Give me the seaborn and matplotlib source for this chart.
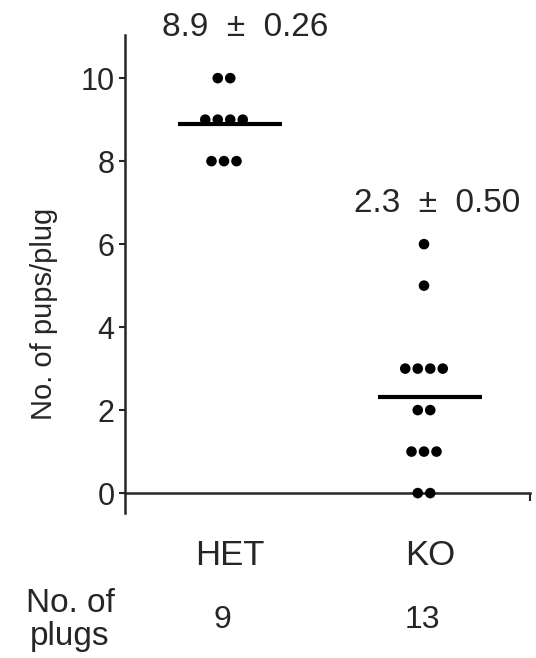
import matplotlib
matplotlib.use("Agg")
import matplotlib.pyplot as plt
import matplotlib.transforms as mtransforms
import numpy as np
import pandas as pd
import seaborn as sns

# data
groups = ["HET", "KO"]
het_pups = [10, 10, 9, 9, 9, 9, 8, 8, 8]
ko_pups = [6, 5, 3, 3, 3, 3, 2, 2, 1, 1, 1, 0, 0]

sns.set_style("white")
plt.rcParams['font.family'] = ['Liberation Sans', 'DejaVu Sans']
ink = "#262626"

rows = []
for gi, (name, vals) in enumerate(zip(groups, [het_pups, ko_pups])):
    # dots with the same value sit side by side
    counts = pd.Series(vals).value_counts()
    seen = {}
    for v in vals:
        n = counts[v]
        k = seen.get(v, 0)
        seen[v] = k + 1
        rows.append({"group": name, "xpos": gi - 0.03 + (k - (n - 1) / 2) * 0.0625, "pups": v})
df = pd.DataFrame(rows)

fig = plt.figure(figsize=(5.36, 6.58), dpi=100)
ax = fig.add_axes([125 / 536, 145 / 658, 407 / 536, 478 / 658])

sns.scatterplot(data=df, x="xpos", y="pups", color="black", s=58,
                edgecolor="none", ax=ax, clip_on=False, zorder=3)

# mean lines and mean +- sem labels
stats = df.groupby("group", sort=False)["pups"].agg(["mean", "sem", "count"])
ax.hlines(stats["mean"].values, np.arange(len(groups)) - 0.26,
          np.arange(len(groups)) + 0.26, color="black", lw=3, zorder=2)
ann_pos = [(0.075, 11.23), (1.035, 6.99)]
for (gx, gy), (name, r) in zip(ann_pos, stats.iterrows()):
    ax.text(gx, gy, f"{r['mean']:.1f}  \u00b1  {r['sem']:.2f}", ha="center", va="center",
            fontsize=24, color=ink, clip_on=False)

ax.set_xlim(-0.525, 1.51)
ax.set_ylim(-0.48, 11.04)
ax.set_yticks([0, 2, 4, 6, 8, 10])
ax.set_xticks(range(len(groups)))
ax.set_xticklabels(groups)
ax.tick_params(axis="x", length=0, pad=33, labelsize=25, labelcolor=ink)
ax.tick_params(axis="y", length=4.5, width=1.5, pad=3, labelsize=22, labelcolor=ink,
               color=ink, left=True, direction="out")
ax.set_xticks([1.5], minor=True)
ax.tick_params(axis="x", which="minor", length=6, width=1.5, color=ink, direction="out", bottom=True)

for side in ["top", "right"]:
    ax.spines[side].set_visible(False)
ax.spines["bottom"].set_position(("data", 0))
ax.spines["bottom"].set_bounds(-0.525, 1.5)
for side in ["left", "bottom"]:
    ax.spines[side].set_color(ink)
    ax.spines[side].set_linewidth(1.8)

ax.set_xlabel("")
ax.set_ylabel("No. of pups/plug", fontsize=21, color=ink)
ax.yaxis.set_label_coords(-0.165, 0.416)

# number of plugs row under the axis
tr = mtransforms.blended_transform_factory(ax.transData, ax.transAxes)
ax.text(-0.8, -0.224, "No. of\nplugs", ha="center", va="center", fontsize=24,
        color=ink, linespacing=1.1, transform=tr, clip_on=False)
for gi, name in enumerate(groups):
    ax.text(gi - 0.04, -0.224, str(int(stats.loc[name, "count"])), ha="center", va="center",
            fontsize=23, color=ink, transform=tr, clip_on=False)

fig.savefig("out.png", dpi=100)
